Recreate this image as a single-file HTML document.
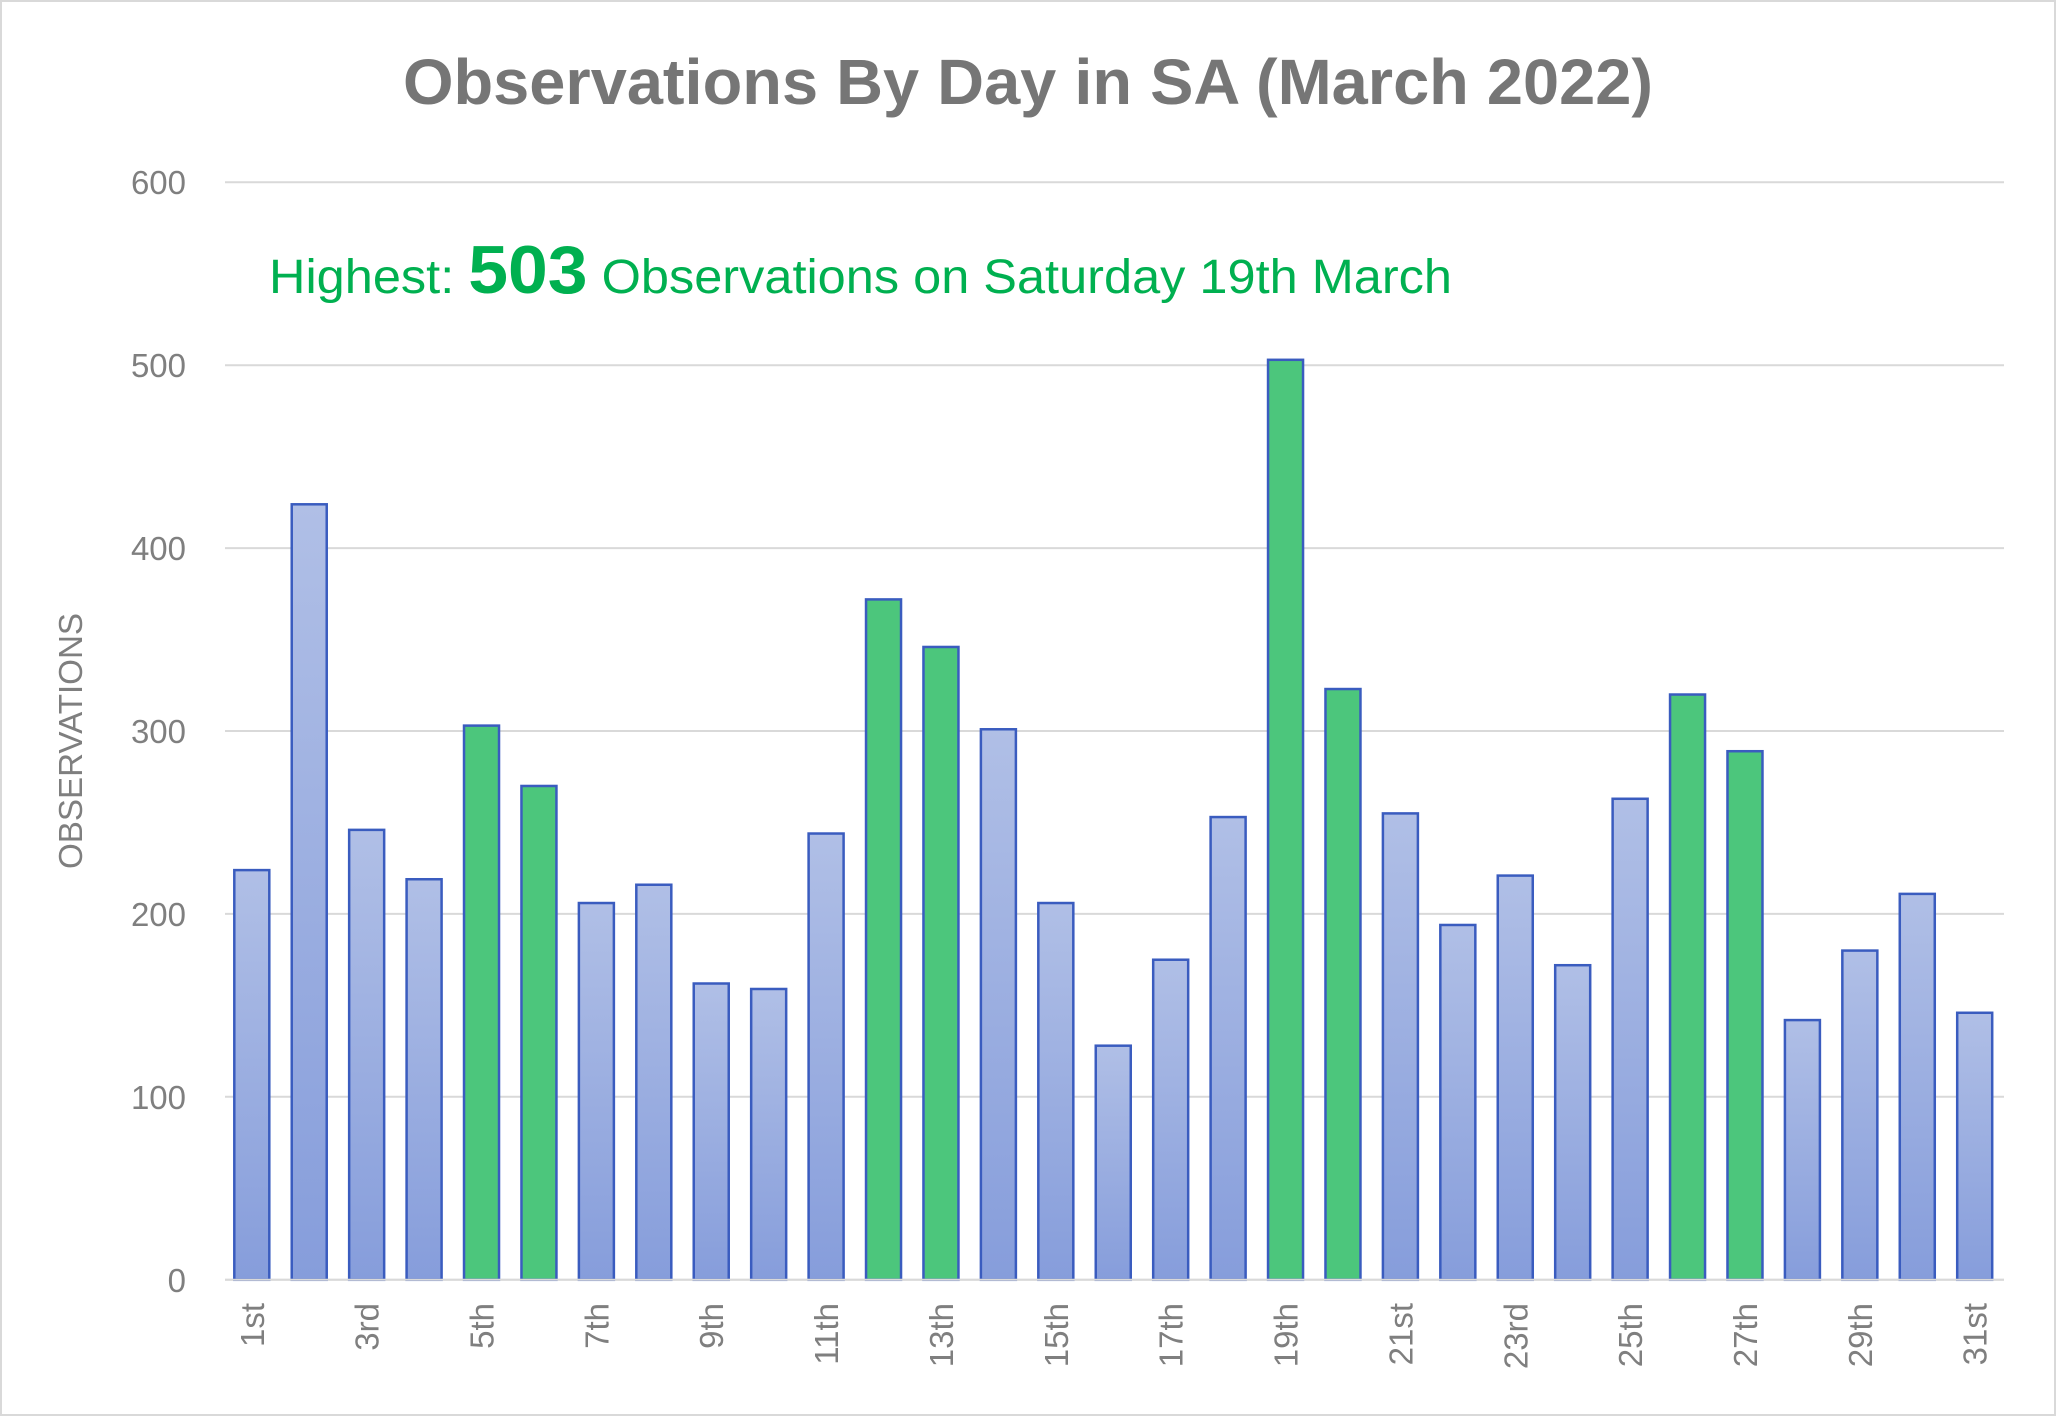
<!DOCTYPE html>
<html><head><meta charset="utf-8"><style>
html,body{margin:0;padding:0;background:#fff;}
svg{display:block;}
</style></head><body>
<svg width="2056" height="1416" viewBox="0 0 2056 1416" xmlns="http://www.w3.org/2000/svg" font-family="Liberation Sans, sans-serif">
<defs>
<linearGradient id="bg" x1="0" y1="0" x2="0" y2="1"><stop offset="0" stop-color="#b0bfe6"/><stop offset="1" stop-color="#869ddb"/></linearGradient>
</defs>
<rect x="1" y="1" width="2054" height="1414" fill="#fff" stroke="#d9d9d9" stroke-width="2"/>
<text x="403" y="104" textLength="1250" lengthAdjust="spacingAndGlyphs" font-size="64" font-weight="bold" fill="#767676">Observations By Day in SA (March 2022)</text>
<g stroke="#d9d9d9" stroke-width="2">
<line x1="225" y1="182.3" x2="2004" y2="182.3"/>
<line x1="225" y1="365.2" x2="2004" y2="365.2"/>
<line x1="225" y1="548.1" x2="2004" y2="548.1"/>
<line x1="225" y1="731.0" x2="2004" y2="731.0"/>
<line x1="225" y1="913.9" x2="2004" y2="913.9"/>
<line x1="225" y1="1096.8" x2="2004" y2="1096.8"/>
<line x1="225" y1="1279.8" x2="2004" y2="1279.8"/>
</g>
<g font-size="33" fill="#7f7f7f" text-anchor="end">
<text x="186" y="194">600</text><text x="186" y="377">500</text><text x="186" y="560">400</text>
<text x="186" y="743">300</text><text x="186" y="926">200</text><text x="186" y="1109">100</text><text x="186" y="1292">0</text>
</g>
<text transform="translate(82,741) rotate(-90)" text-anchor="middle" font-size="33" fill="#7f7f7f" textLength="256" lengthAdjust="spacingAndGlyphs">OBSERVATIONS</text>
<text x="269" y="293" font-size="48" fill="#00b050" textLength="1183" lengthAdjust="spacingAndGlyphs">Highest: <tspan font-size="68" font-weight="bold">503</tspan> Observations on Saturday 19th March</text>
<g id="bars" stroke="#3a5cbf" stroke-width="2.5"></g>
<g id="xl" font-size="33" fill="#7f7f7f"></g>
<script>
var v=[224,424,246,219,303,270,206,216,162,159,244,372,346,301,206,128,175,253,503,323,255,194,221,172,263,320,289,142,180,211,146];
var g=[5,6,12,13,19,20,26,27];
var suf=function(d){if(d==1||d==21||d==31)return 'st';if(d==2||d==22)return 'nd';if(d==3||d==23)return 'rd';return 'th';};
var ns='http://www.w3.org/2000/svg',B=document.getElementById('bars'),X=document.getElementById('xl');
for(var i=0;i<31;i++){var cx=251.8+i*57.43,h=v[i]*1.829,r=document.createElementNS(ns,'rect');
r.setAttribute('x',cx-17.5);r.setAttribute('y',1279.8-h);r.setAttribute('width',35);r.setAttribute('height',h);
r.setAttribute('fill',g.indexOf(i+1)>=0?'#4cc67c':'url(#bg)');B.appendChild(r);
if(i%2==0){var t=document.createElementNS(ns,'text');t.setAttribute('transform','translate('+(cx+12)+',1303) rotate(-90)');
t.setAttribute('text-anchor','end');t.textContent=(i+1)+suf(i+1);X.appendChild(t);}}
</script>
<line x1="225" y1="1279.8" x2="2004" y2="1279.8" stroke="#d9d9d9" stroke-width="2"/>
</svg>
</body></html>
